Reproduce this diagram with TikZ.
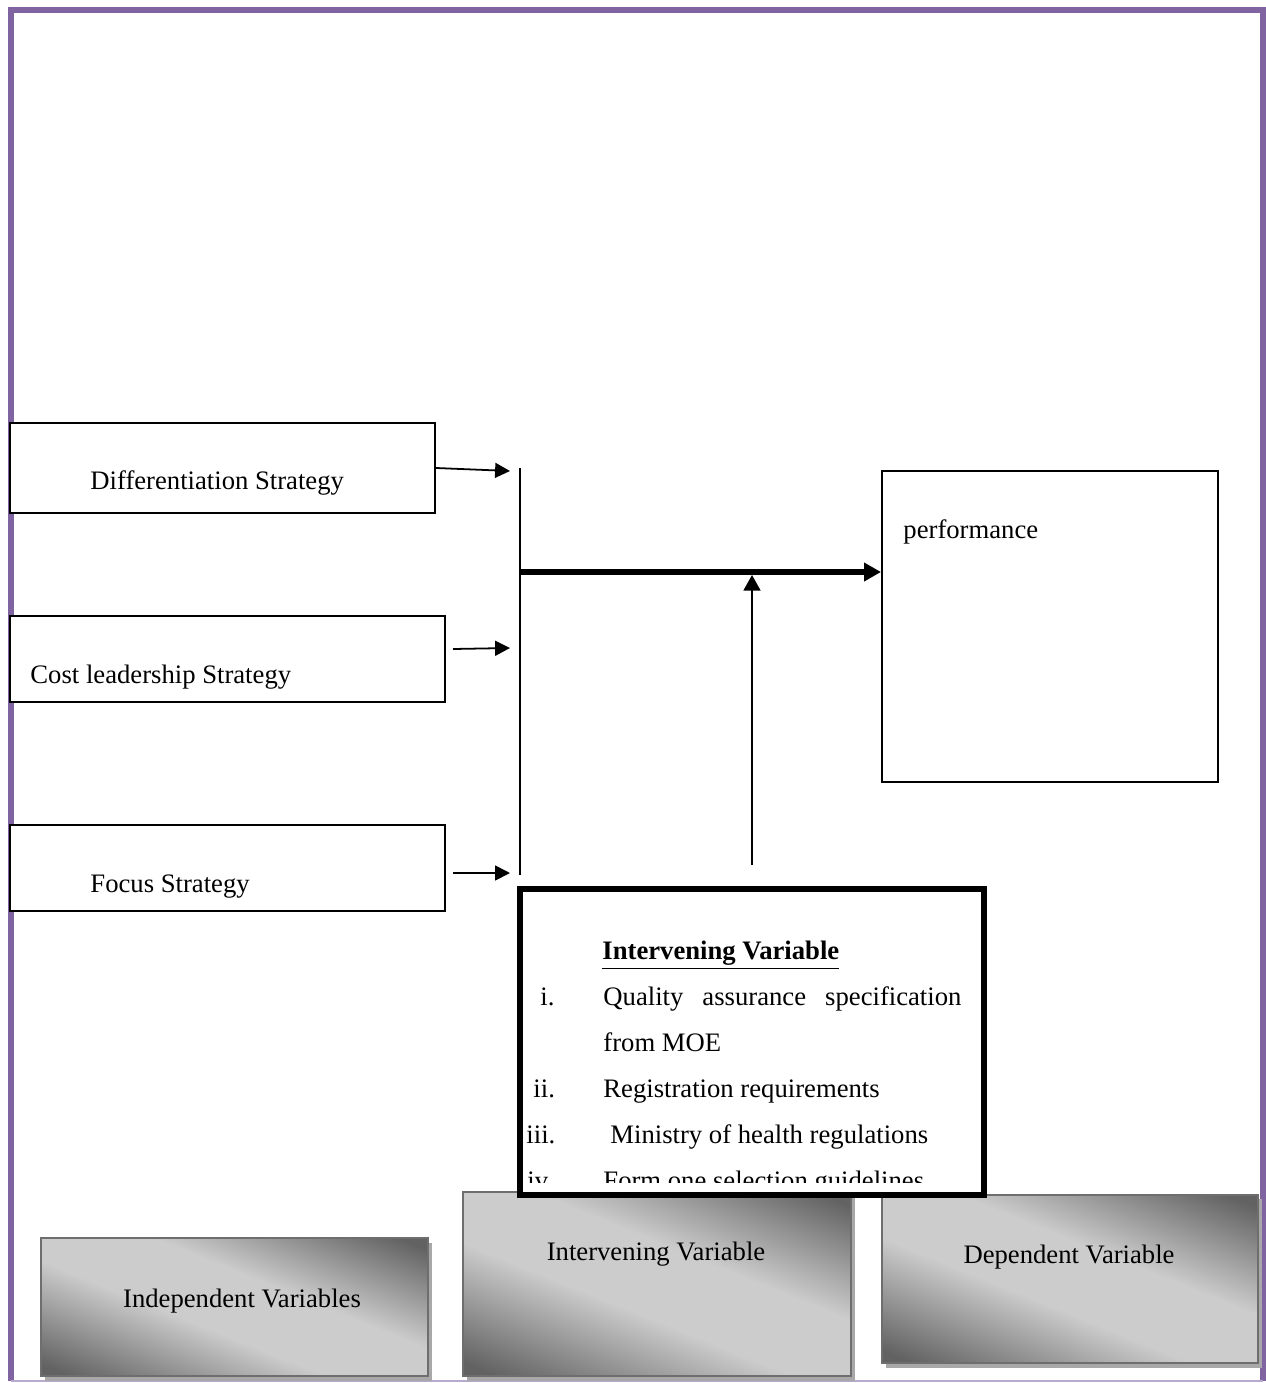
\documentclass[tikz,border=0pt]{standalone}
\usepackage{fontspec}
\setmainfont{Liberation Serif}
\usetikzlibrary{arrows.meta,fit}
\definecolor{framec}{HTML}{8064A2}
\definecolor{framelt}{HTML}{B8AACF}
\definecolor{gdark}{HTML}{626262}
\definecolor{glight}{HTML}{CCCCCC}
\definecolor{gedge}{HTML}{6E6E6E}
\definecolor{gshadow}{HTML}{A8A8A8}
\pgfdeclareverticalshading{legendshade}{100bp}{color(0bp)=(gdark); color(20bp)=(gdark); color(43bp)=(glight); color(58bp)=(glight); color(80bp)=(gdark); color(100bp)=(gdark)}
\begin{document}
\begin{tikzpicture}[x=0.45pt,y=-0.45pt,
  font=\fontsize{12}{14}\selectfont,
  box/.style={draw=black,line width=0.9pt,fill=white,inner sep=0pt},
  txt/.style={anchor=base west,inner sep=0pt},
  ctxt/.style={anchor=base,inner sep=0pt},
  link/.style={line width=0.8pt,-{Triangle[length=6.7pt,width=6.7pt]}},
  gbox/.style={draw=gedge,line width=1pt,inner sep=0pt,shading=legendshade,shading angle=-22},
  gshad/.style={fill=gshadow,draw=none}
]
\useasboundingbox (0,0) rectangle (1265,1383);

% page frame
\draw[framec,line width=2.7pt] (11,1381) -- (11,10.5) -- (1263,10.5) -- (1263,1381);
\draw[framelt,line width=0.7pt] (11,1381) -- (1263,1381);

% legend boxes (gradient)
\fill[gshad] (45,1243) rectangle (432,1381);
\node[gbox,fit={(41,1238) (428,1376)}] (indep) {};
\node[ctxt] (indept) at (242,1307) {Independent Variables};

\fill[gshad] (467,1196) rectangle (855,1381);
\node[gbox,fit={(463,1192) (851,1376)}] (interv) {};
\node[ctxt] (intervt) at (656,1260) {Intervening Variable};

\fill[gshad] (886,1199) rectangle (1262,1368);
\node[gbox,fit={(882,1195) (1258,1363)}] (dep) {};
\node[ctxt] (dept) at (1069,1263) {Dependent Variable};

% independent variable boxes
\node[box,fit={(10,423) (435,513)}] (diff) {};
\node[txt] (difft) at (90,489) {Differentiation Strategy};
\node[box,fit={(10,616) (445,702)}] (cost) {};
\node[txt] (costt) at (30,683) {Cost leadership Strategy};
\node[box,fit={(10,825) (445,911)}] (focus) {};
\node[txt] (focust) at (90,892) {Focus Strategy};

% dependent variable box
\node[box,fit={(882,471) (1218,782)}] (perf) {};
\node[txt] (perft) at (903,538) {performance};

% connectors
\coordinate (da) at (510,471);
\coordinate (cs) at (453,649);
\coordinate (ca) at (510,648);
\coordinate (fs) at (453,873);
\coordinate (fa) at (510,873);
\coordinate (bt) at (520,468);
\coordinate (bb) at (520,875);
\coordinate (bm) at (520,572);
\coordinate (us) at (752,865);
\coordinate (ue) at (752,575);

\draw[link] (diff.east) -- (da);
\draw[link] (cs) -- (ca);
\draw[link] (fs) -- (fa);
\draw[line width=0.8pt] (bt) -- (bb);
\draw[line width=2.7pt,-{Triangle[length=7.6pt,width=8pt]}] (bm) -- (perf.west |- bm);
\draw[line width=0.8pt,-{Triangle[length=7pt,width=7.6pt]}] (us) -- (ue);

% intervening variable box
\node[draw=black,fill=white,line width=2.7pt,inner sep=0pt,fit={(520,889) (984,1195)}] (ivbox) {};
\begin{scope}
\clip (523,892) rectangle (981,1182);
\node[txt] (ivhead) at (602,959) {\textbf{\underline{Intervening Variable}}};
\node[txt] (n1) at (540,1005) {i.};
\node[txt] (i1) at (603,1005) {\makebox[161.1pt][s]{Quality assurance specification}};
\node[txt] (i1b) at (603,1051) {from MOE};
\node[txt] (n2) at (533,1097) {ii.};
\node[txt] (i2) at (603,1097) {Registration requirements};
\node[txt] (n3) at (526,1143) {iii.};
\node[txt] (i3) at (610,1143) {Ministry of health regulations};
\node[txt] (n4) at (527,1189) {iv.};
\node[txt] (i4) at (603,1189) {Form one selection guidelines};
\end{scope}
\end{tikzpicture}
\end{document}
